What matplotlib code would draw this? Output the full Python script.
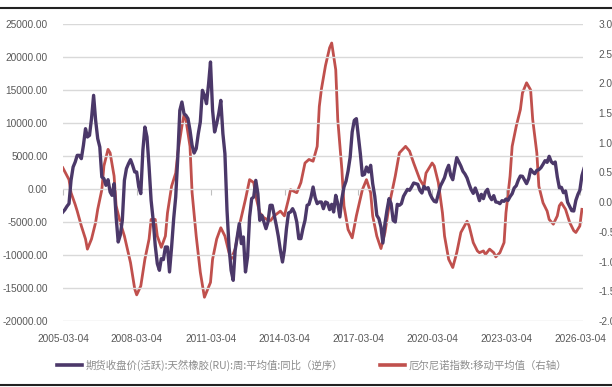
import pandas as pd
import matplotlib.pyplot as plt
from matplotlib.lines import Line2D

plt.rcParams['font.family'] = ['Liberation Sans', 'Noto Sans CJK SC', 'DejaVu Sans']

# 天然橡胶期货周均价同比, 月度取值 (2005-03 起)
rubber_start = '2005-03-01'
rubber_yoy = [
    -3500, -3130, -2630, -2220, 1310, 3330, 4090, 5100, 5100, 4600,
    6620, 9140, 7880, 8130, 10660, 14190, 10400, 7630, 6360, 1820,
    1570, 560, 1410, -450, -960, 810, -4240, -8030, -7020, -4750,
    1310, 3080, 3840, 4440, 3590, 2580, 2580, 300, -700, 5860,
    9390, 7880, 3330, -1720, -4750, -8530, -11310, -12320, -10560, -10700,
    -8790, -8790, -12570, -8790, -4490, -1210, 4850, 11920, 13180, 11410,
    11160, 10660, 8890, 6620, 5450, 6110, 8380, 10150, 14950, 14190,
    12930, 15960, 19240, 11920, 8640, 9900, 11410, 13430, 8380, 5350,
    -3230, -8790, -12320, -13840, -9290, -7270, -5250, -8280, -7270, -12570,
    -10300, -4240, -1460, -1210, 1310, -700, -4750, -3990, -5000, -6010,
    -5000, -2470, -2470, -3990, -5500, -7170, -9290, -11060, -9290, -6010,
    -3640, -3480, -2980, -3640, -5000, -7520, -7520, -6010, -4750, -2470,
    -2320, -1210, 300, -1310, -2220, -1970, -1970, -2980, -1970, -2120,
    -3130, -2320, -3480, -960, -2220, -4240, -1460, 300, 1210, 2730,
    4850, 8640, 10400, 10660, 8130, 5350, 2070, 2220, 3330, 2580,
    3590, 810, -1110, -3990, -4490, -5760, -8180, -5250, -3230, -1460,
    -2220, -4750, -5000, -2320, -2470, -2220, -1110, -560, -50, -200,
    300, 910, 810, 710, -200, -610, 400, 0, 200, -810,
    -1410, -1870, -1970, -710, 450, 1060, 1720, 2830, 3590, 2070,
    1410, 3230, 4750, 4090, 3480, 2680, 2270, 1670, 710, -100,
    -660, 150, -710, -1770, -810, -1460, -450, -50, -1110, -1620,
    -1010, -1970, -2020, -2220, -1770, -1870, -1520, -1720, -1160, -710,
    150, 500, 1360, 1970, 1920, 1360, 810, 1570, 2980, 2580,
    2320, 2830, 2930, 3230, 3740, 4290, 4040, 4950, 4140, 3840,
    4090, 1820, 200, 250, -560, -300, -2020, -2630, -3280, -3330,
    -1720, -810, -200, 2020, 3080,
]

# 厄尔尼诺指数移动平均
enso_months = [
    '2005-03', '2005-06', '2005-07', '2005-09', '2005-10', '2005-12', '2006-02', '2006-03',
    '2006-05', '2006-07', '2006-08', '2006-10', '2006-11', '2007-01', '2007-02', '2007-04',
    '2007-05', '2007-07', '2007-09', '2007-12', '2008-02', '2008-03', '2008-05', '2008-07',
    '2008-09', '2008-10', '2008-12', '2009-01', '2009-03', '2009-05', '2009-06', '2009-08',
    '2009-10', '2009-11', '2010-01', '2010-02', '2010-03', '2010-05', '2010-06', '2010-08',
    '2010-10', '2010-12', '2011-03', '2011-04', '2011-06', '2011-08', '2011-10', '2011-12',
    '2012-01', '2012-03', '2012-05', '2012-08', '2012-10', '2012-12', '2013-01', '2013-03',
    '2013-05', '2013-08', '2013-10', '2014-01', '2014-03', '2014-05', '2014-06', '2014-09',
    '2014-11', '2015-01', '2015-03', '2015-05', '2015-07', '2015-08', '2015-09', '2015-11',
    '2016-01', '2016-02', '2016-04', '2016-05', '2016-07', '2016-08', '2016-10', '2016-12',
    '2017-02', '2017-05', '2017-07', '2017-09', '2017-10', '2017-12', '2018-02', '2018-04',
    '2018-06', '2018-09', '2018-11', '2019-02', '2019-04', '2019-06', '2019-09', '2019-11',
    '2019-12', '2020-03', '2020-04', '2020-06', '2020-08', '2020-09', '2020-11', '2021-01',
    '2021-03', '2021-05', '2021-08', '2021-09', '2021-11', '2022-01', '2022-02', '2022-04',
    '2022-05', '2022-07', '2022-09', '2022-10', '2022-12', '2023-02', '2023-03', '2023-05',
    '2023-06', '2023-08', '2023-10', '2023-11', '2024-01', '2024-03', '2024-04', '2024-06',
    '2024-07', '2024-09', '2024-11', '2024-12', '2025-02', '2025-04', '2025-05', '2025-06',
    '2025-08', '2025-10', '2025-12', '2026-01', '2026-03', '2026-04',
]
enso_ma = [
    0.58, 0.38, 0.16, -0.04, -0.15, -0.40, -0.62, -0.79,
    -0.62, -0.34, -0.12, 0.21, 0.61, 0.89, 0.83, 0.44,
    -0.06, -0.34, -0.57, -1.02, -1.46, -1.56, -1.41, -0.96,
    -0.62, -0.29, -0.29, -0.57, -0.76, -0.57, -0.18, 0.27,
    0.49, 0.83, 1.28, 1.47, 1.39, 0.94, 0.16, -0.57,
    -1.18, -1.60, -1.35, -0.96, -0.62, -0.43, -0.57, -0.85,
    -0.96, -0.79, -0.40, 0.05, 0.38, 0.33, 0.10, -0.18,
    -0.26, -0.32, -0.23, -0.15, -0.23, 0.05, 0.21, 0.16,
    0.33, 0.66, 0.72, 0.69, 0.94, 1.61, 1.90, 2.30,
    2.60, 2.68, 2.23, 1.39, 0.55, -0.06, -0.46, -0.60,
    -0.23, 0.21, 0.38, 0.16, -0.23, -0.57, -0.78, -0.51,
    -0.06, 0.44, 0.83, 0.94, 0.86, 0.66, 0.38, 0.27,
    0.49, 0.66, 0.61, 0.33, -0.18, -0.57, -0.96, -1.10,
    -0.85, -0.51, -0.32, -0.40, -0.68, -0.82, -0.85, -0.82,
    -0.88, -0.79, -0.85, -0.92, -0.85, -0.68, -0.18, 0.44,
    0.94, 1.28, 1.56, 1.84, 2.01, 1.89, 1.39, 0.83,
    0.27, -0.01, -0.15, -0.29, -0.37, -0.23, -0.06, -0.01,
    -0.12, -0.34, -0.48, -0.51, -0.40, -0.12,
]

tick_dates = ['2005-03-04', '2008-03-04', '2011-03-04', '2014-03-04',
              '2017-03-04', '2020-03-04', '2023-03-04', '2026-03-04']
left_ticks = list(range(-20000, 25001, 5000))
right_ticks = [-2.0, -1.5, -1.0, -0.5, 0.0, 0.5, 1.0, 1.5, 2.0, 2.5, 3.0]

label_rubber = '期货收盘价(活跃):天然橡胶(RU):周:平均值:同比（逆序）'
label_enso = '厄尔尼诺指数:移动平均值（右轴）'

purple = '#4b3869'
red = '#c0504d'
grey_txt = '#595959'
grid_c = '#d9d9d9'

rubber_dates = pd.date_range(rubber_start, periods=len(rubber_yoy), freq='MS')
enso_dates = pd.to_datetime(enso_months)
ticks = pd.to_datetime(tick_dates)

fig = plt.figure(figsize=(6.12, 3.87), dpi=100)
ax = fig.add_axes([63 / 612, 1 - 321 / 387, 520 / 612, 297 / 387])
ax2 = ax.twinx()

ax.plot(rubber_dates, rubber_yoy, color=purple, lw=2.4, solid_joinstyle='round', zorder=3)
ax2.plot(enso_dates, enso_ma, color=red, lw=2.0, solid_joinstyle='round')

ax.set_ylim(-20000, 25000)
ax.set_yticks(left_ticks)
ax.set_yticklabels([f'{v:.2f}' for v in left_ticks])
ax2.set_ylim(-2, 3)
ax2.set_yticks(right_ticks)
ax2.set_yticklabels([f'{v:.2f}' for v in right_ticks])

ax.set_xlim(pd.Timestamp('2005-03-04'), pd.Timestamp('2026-04-17'))
ax.set_xticks(ticks)
ax.set_xticklabels(tick_dates)

ax.grid(axis='y', color=grid_c, lw=1.0)
ax.set_axisbelow(True)
ax2.set_zorder(ax.get_zorder() - 1)
ax.patch.set_visible(False)

for a in (ax, ax2):
    for s in a.spines.values():
        s.set_visible(False)
    a.tick_params(length=0, labelsize=7.3, labelcolor=grey_txt)
ax.tick_params(axis='y', pad=11)
ax2.tick_params(axis='y', pad=11)
ax.tick_params(axis='x', pad=9)

# small tick marks sitting on the zero line
zero_frac = 20000 / 45000
sec = ax.secondary_xaxis(zero_frac)
sec.set_xticks(ticks)
sec.xaxis.set_ticks_position('bottom')
sec.tick_params(axis='x', direction='out', length=4, width=0.8, color='#bfbfbf',
                labelbottom=False, labeltop=False)
for s in sec.spines.values():
    s.set_visible(False)

handles = [Line2D([], [], color=purple, lw=2.6), Line2D([], [], color=red, lw=2.6)]
fig.legend(handles, [label_rubber, label_enso], loc='center left',
           bbox_to_anchor=(57 / 612, 1 - 365.5 / 387), ncol=2, frameon=False,
           borderpad=0, borderaxespad=0, handlelength=2.4, handletextpad=0.3,
           columnspacing=3.6, prop={'family': ['Noto Sans CJK SC'], 'size': 7.5},
           labelcolor='#8c8c8c')

# frame rules above and below the chart
fig.add_artist(Line2D([0, 1], [1 - 8 / 387, 1 - 8 / 387], color='#222222', lw=1.5))
fig.add_artist(Line2D([0, 1], [1 - 385 / 387, 1 - 385 / 387], color='#222222', lw=1.5))

fig.savefig('out.png', dpi=100)
